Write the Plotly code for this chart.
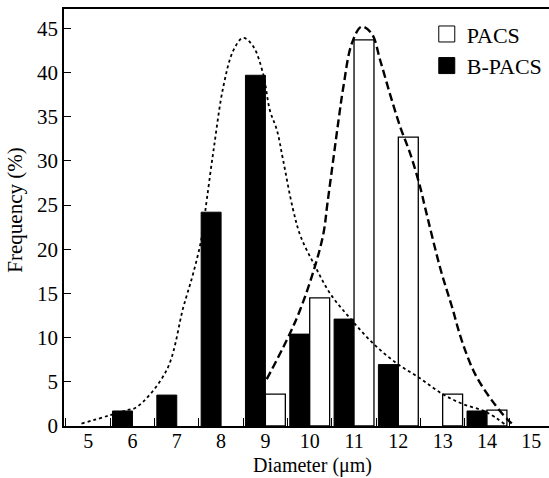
import plotly.graph_objects as go

# Histogram data (Frequency %) by diameter (µm)
bpacs_x = [6, 7, 8, 9, 10, 11, 12, 14]
bpacs_y = [1.7, 3.5, 24.2, 39.7, 10.4, 12.1, 6.95, 1.7]

pacs_x = [9, 10, 11, 12, 13, 14]
pacs_y = [3.6, 14.5, 43.7, 32.7, 3.6, 1.8]

# Fitted distribution curves
bpacs_fit_x = [4.85, 5.87, 6.10, 6.77, 7.15, 7.37, 7.55, 7.64, 7.83, 8.05, 8.28, 8.50,
               8.73, 8.95, 9.10, 9.26, 9.40, 9.62, 9.80, 10.12, 10.46, 10.91, 11.44,
               11.97, 12.49, 12.98, 13.43, 13.98, 14.41]
bpacs_fit_y = [0.27, 1.78, 2.15, 6.31, 13.48, 17.26, 21.03, 24.24, 31.22, 38.39, 42.55, 43.94,
               42.92, 39.83, 35.75, 33.49, 30.09, 24.6, 21.4, 18.1, 15.0, 12.2, 9.3,
               7.07, 5.4, 3.67, 2.54, 1.59, 0.16]

pacs_fit_x = [9.03, 9.48, 9.78, 10.12, 10.31, 10.40, 10.53, 10.65, 10.76, 10.95, 11.17,
              11.40, 11.59, 11.81, 12.04, 12.27, 12.49, 12.60, 12.96, 13.21, 13.43, 13.73,
              14.11, 14.48, 14.63]
pacs_fit_y = [5.3, 9.7, 13.1, 18.1, 21.8, 25.2, 30.1, 34.6, 38.4, 43.3, 45.2,
              44.4, 41.4, 37.6, 33.9, 30.8, 27.1, 24.8, 17.6, 13.5, 9.7, 5.9,
              2.9, 0.65, 0.05]

x_ticks = [5, 6, 7, 8, 9, 10, 11, 12, 13, 14, 15]
y_ticks = [0, 5, 10, 15, 20, 25, 30, 35, 40, 45]

FONT = "Liberation Serif, Times New Roman, serif"

fig = go.Figure()
fig.add_trace(go.Bar(x=bpacs_x, y=bpacs_y, name="B-PACS", showlegend=False,
                     marker=dict(color="black", line=dict(color="black", width=1))))
fig.add_trace(go.Bar(x=pacs_x, y=pacs_y, name="PACS", showlegend=False,
                     marker=dict(color="white", line=dict(color="black", width=1.3))))
fig.add_trace(go.Scatter(x=bpacs_fit_x, y=bpacs_fit_y, mode="lines", showlegend=False,
                         line=dict(color="black", width=1.8, dash="dot", shape="spline")))
fig.add_trace(go.Scatter(x=pacs_fit_x, y=pacs_fit_y, mode="lines", showlegend=False,
                         line=dict(color="black", width=2.4, dash="8px,4px", shape="spline")))
# legend entries
fig.add_trace(go.Scatter(x=[None], y=[None], mode="markers", name="PACS",
                         marker=dict(symbol="square", size=16, color="white",
                                     line=dict(color="black", width=1))))
fig.add_trace(go.Scatter(x=[None], y=[None], mode="markers", name="B-PACS",
                         marker=dict(symbol="square", size=16, color="black",
                                     line=dict(color="black", width=1))))

fig.update_layout(
    width=549, height=478,
    margin=dict(l=64, r=0, t=9, b=52),
    paper_bgcolor="white", plot_bgcolor="white",
    font=dict(family=FONT, size=21, color="black"),
    barmode="group", bargap=0.1, bargroupgap=0,
    legend=dict(x=0.748, y=0.99, xanchor="left", yanchor="top",
                font=dict(family=FONT, size=22), bgcolor="rgba(0,0,0,0)",
                itemsizing="trace", tracegroupgap=0),
    xaxis=dict(range=[4.455, 15.40], tickvals=x_ticks, ticktext=[str(v) for v in x_ticks],
               ticks="", showgrid=False, zeroline=False, ticklabelstandoff=-4,
               showline=True, linecolor="black", linewidth=1.5, mirror=True,
               minor=dict(ticks="inside", tick0=4.5, dtick=1, ticklen=8,
                          tickcolor="black", tickwidth=1.2, showgrid=False),
               tickfont=dict(size=20)),
    yaxis=dict(range=[0, 47.2], tickvals=y_ticks, ticks="inside", ticklen=7,
               tickcolor="black", tickwidth=1.2, showgrid=False, zeroline=False,
               showline=True, linecolor="black", linewidth=1.5,
               tickfont=dict(size=21)),
    annotations=[
        dict(text="Diameter (μm)", xref="x", yref="paper", x=10.06, y=0,
             yshift=-52, xanchor="center", yanchor="bottom", showarrow=False,
             borderpad=0, font=dict(size=20)),
        dict(text="Frequency (%)", xref="paper", yref="paper", x=0, xshift=-49,
             y=0.5164, textangle=-90, xanchor="center", yanchor="middle",
             showarrow=False, borderpad=0, font=dict(size=21)),
    ],
)

fig.write_html("out.html")
